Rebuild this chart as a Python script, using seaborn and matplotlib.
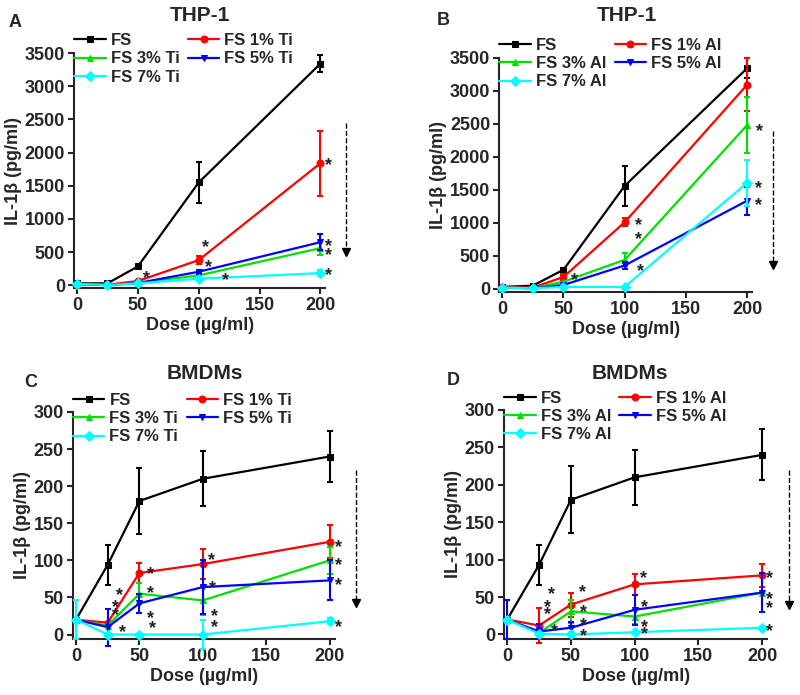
import numpy as np
import pandas as pd
import seaborn as sns
import matplotlib.pyplot as plt

sns.set_theme(style='ticks')
plt.rcParams['font.family'] = ['Liberation Sans', 'DejaVu Sans']
plt.rcParams['font.weight'] = 'bold'
plt.rcParams['axes.labelweight'] = 'bold'

# Data
dose = [0, 25, 50, 100, 200]
colors = ['black', '#FF0000', '#00E000', '#0000FF', '#00FFFF']
markers = ['s', 'o', '^', 'v', 'D']

# A: THP-1, Ti
a_labels = ['FS', 'FS 1% Ti', 'FS 3% Ti', 'FS 5% Ti', 'FS 7% Ti']
a_mean = [[30, 30, 285, 1550, 3340],
          [20, 10, 65, 380, 1840],
          [20, 5, 35, 150, 560],
          [20, 5, 35, 205, 650],
          [20, 5, 30, 100, 185]]
a_err = [[0, 0, 20, 310, 130],
         [0, 0, 0, 60, 490],
         [0, 0, 0, 30, 100],
         [0, 0, 0, 30, 120],
         [0, 0, 0, 20, 40]]
a_stars = [(57, 180), (106, 655), (108, 352), (122, 150),
           (207, 1890), (207, 670), (207, 530), (207, 237)]

# B: THP-1, Al
b_labels = ['FS', 'FS 1% Al', 'FS 3% Al', 'FS 5% Al', 'FS 7% Al']
b_mean = [[30, 50, 290, 1560, 3340],
          [30, 20, 180, 1010, 3090],
          [20, 10, 110, 440, 2480],
          [20, 10, 60, 355, 1335],
          [20, 10, 30, 30, 1605]]
b_err = [[0, 0, 20, 300, 150],
         [0, 0, 40, 60, 400],
         [0, 0, 0, 100, 430],
         [0, 0, 0, 50, 210],
         [0, 0, 0, 0, 350]]
b_stars = [(59, 208), (111, 1043), (111, 830), (113, 345),
           (210, 2472), (209, 1610), (209, 1348)]

# C: BMDMs, Ti
c_labels = a_labels
c_mean = [[20, 94, 180, 210, 240],
          [20, 16, 83, 95, 125],
          [20, 12, 55, 46, 100],
          [20, 10, 42, 64, 73],
          [20, 0, 0, 0, 18]]
c_err = [[0, 27, 45, 37, 34],
         [0, 0, 13, 20, 22],
         [0, 0, 14, 20, 18],
         [0, 25, 13, 36, 27],
         [26, 0, 0, 20, 4]]
c_stars = [(34, 60), (31, 44), (31, 33), (37, 10), (59, 88), (59, 63), (59, 29),
           (60, 16), (107, 107), (108, 69), (109, 31), (109, 17),
           (207, 125), (207, 101), (207, 73), (207, 17)]

# D: BMDMs, Al
d_labels = b_labels
d_mean = [[20, 93, 180, 210, 240],
          [20, 12, 40, 67, 79],
          [20, 2, 31, 24, 56],
          [20, 4, 9, 33, 56],
          [20, 1, 0, 3, 9]]
d_err = [[0, 27, 45, 37, 34],
         [0, 24, 16, 14, 15],
         [0, 0, 15, 10, 0],
         [26, 10, 8, 20, 26],
         [0, 0, 0, 0, 0]]
d_stars = [(35, 61), (32, 44), (32, 34), (37, 11), (59, 63), (60, 37), (60, 19),
           (60, 4), (107, 82), (108, 43), (108, 17), (108, 7),
           (206, 82), (206, 54), (206, 42), (206, 11)]

panels = [
    ('A', 'THP-1', a_labels, a_mean, a_err, a_stars, (-40, 3500), 500, (2450, 500),
     [0.0925, 0.5856, 0.314, 0.338], (0.019, 0.967), (0.25, 0.978)),
    ('B', 'THP-1', b_labels, b_mean, b_err, b_stars, (-45, 3500), 500, (2390, 360),
     [0.624, 0.580, 0.316, 0.337], (0.554, 0.971), (0.784, 0.978)),
    ('C', 'BMDMs', c_labels, c_mean, c_err, c_stars, (-6, 300), 50, (222, 43),
     [0.091, 0.0806, 0.3275, 0.3266], (0.038, 0.449), (0.256, 0.463)),
    ('D', 'BMDMs', d_labels, d_mean, d_err, d_stars, (-6, 300), 50, (220, 40),
     [0.630, 0.0806, 0.329, 0.3295], (0.566, 0.453), (0.7875, 0.463)),
]

fig = plt.figure(figsize=(8, 6.95), dpi=100)

for letter, title, labels, means, errs, stars, ylim, ystep, arrow, pos, lpos, tpos in panels:
    ax = fig.add_axes(pos)
    for i in range(5):
        df = pd.DataFrame({'dose': dose, 'il': means[i]})
        sns.lineplot(data=df, x='dose', y='il', color=colors[i], marker=markers[i],
                     markersize=5, markeredgecolor=colors[i], linewidth=1.6,
                     label=labels[i], ax=ax, clip_on=False, zorder=3)
        e = np.array(errs[i], dtype=float)
        m = e > 0
        if m.any():
            ax.errorbar(np.array(dose)[m], np.array(means[i])[m], yerr=e[m], fmt='none',
                        ecolor=colors[i], elinewidth=1.5, capsize=2.5, capthick=1.5,
                        zorder=3, clip_on=False)
    h, l = ax.get_legend_handles_labels()
    order = [0, 2, 4, 1, 3]
    ax.legend([h[k] for k in order], [l[k] for k in order], ncol=2, frameon=False,
              loc='upper left', bbox_to_anchor=(0.0, 1.085), borderaxespad=0,
              borderpad=0, handlelength=1.9, handletextpad=0.3, labelspacing=0.2,
              columnspacing=0.5, prop={'size': 12, 'weight': 'bold'})

    # significance stars
    for sx, sy in stars:
        ax.annotate('*', (sx, sy), xytext=(0, -4), textcoords='offset points',
                    ha='center', va='center', fontsize=13, fontweight='bold',
                    color='#222222', annotation_clip=False)

    # dashed downward arrow
    ax.plot([221, 221], [arrow[0], arrow[1]], color='black',
            linestyle='--', linewidth=1, clip_on=False)
    ax.plot([221], [arrow[1]], marker='v', color='black', markersize=6, clip_on=False)

    ax.set_xlim(-2.5, 204)
    ax.set_ylim(*ylim)
    ax.set_xticks([0, 50, 100, 150, 200])
    ax.set_yticks(np.arange(0, ylim[1] + 1, ystep))
    ax.set_xlabel('Dose (µg/ml)', fontsize=13, fontweight='bold', labelpad=2)
    ax.set_ylabel('IL-1β (pg/ml)', fontsize=13, fontweight='bold', labelpad=2)
    ax.tick_params(labelsize=13, width=1.5, length=4, direction='out', pad=2.5)
    for t in ax.get_xticklabels() + ax.get_yticklabels():
        t.set_fontweight('bold')
    sns.despine(ax=ax)
    for s in ['left', 'bottom']:
        ax.spines[s].set_linewidth(1.5)

    fig.text(lpos[0], lpos[1], letter, fontsize=13, fontweight='bold', ha='center', va='center')
    fig.text(tpos[0], tpos[1], title, fontsize=15, fontweight='bold', ha='center', va='center')

plt.savefig('out.png', dpi=100)
